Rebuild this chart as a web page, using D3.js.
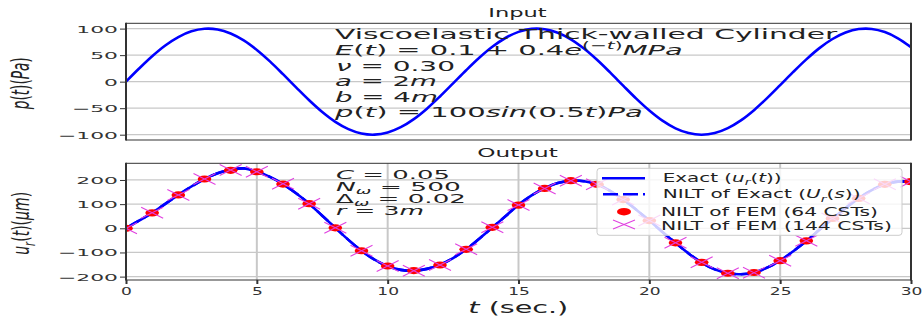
<!DOCTYPE html>
<html>
<head>
<meta charset="utf-8">
<script src="https://cdn.jsdelivr.net/npm/d3@7"></script>
<style>
  body { margin: 0; background: #fff; }
  svg { font-family: "DejaVu Sans", sans-serif; }
</style>
</head>
<body>
<svg id="chart" width="923" height="324"></svg>
<script>
// ---- data ----
const tFine = d3.range(0, 30.5, 0.5);
// input pressure p(t) in Pa, every 0.5 s
const pressure = [0, 24.7, 47.9, 68.2, 84.1, 94.9, 99.7, 98.4, 90.9, 77.8, 59.8, 38.2, 14.1, -10.8, -35.1, -57.2,
  -75.7, -89.5, -97.8, -99.9, -95.9, -85.9, -70.6, -50.9, -27.9, -3.3, 21.5, 45.0, 65.7, 82.3, 93.8, 99.5,
  98.9, 92.1, 79.8, 62.4, 41.2, 17.4, -7.5, -32.0, -54.4, -73.5, -88.0, -97.0, -100.0, -96.8, -87.5, -72.9,
  -53.7, -31.1, -6.6, 18.3, 42.0, 63.2, 80.4, 92.6, 99.1, 99.4, 93.5, 81.8, 65.0];
// exact radial displacement u_r(t) in micro-m, every 0.5 s
const exactU = [0, 32, 64, 101, 138, 173, 204, 228, 242, 248, 234, 213, 183, 145, 102, 52, 2, -48, -93, -130,
  -157, -172, -176, -168, -151, -123, -87, -43, 3, 50, 97, 136, 166, 187, 197, 195, 182, 155, 119, 77, 32,
  -15, -60, -104, -142, -170, -186, -190, -183, -163, -134, -95, -53, -6, 40, 84, 124, 158, 182, 193, 194];
// NILT of the exact transform (lies on the exact curve)
const niltExact = exactU.slice();
// FEM results at whole seconds
const tFem = d3.range(0, 31, 1);
const fem64 = [0, 64, 138, 204, 240, 234, 183, 102, 2, -93, -156, -175, -152, -87, 4, 96, 165, 197, 182, 119,
  32, -60, -141, -186, -183, -134, -52, 41, 124, 182, 193];
const fem144 = [0, 64, 138, 204, 241, 234, 184, 102, 2, -93, -156, -176, -152, -87, 4, 96, 165, 197, 182, 119,
  32, -60, -141, -186, -184, -134, -52, 41, 124, 182, 193];

const pTicks = [-100, -50, 0, 50, 100];
const uTicks = [-200, -100, 0, 100, 200];
const tTicks = [0, 5, 10, 15, 20, 25, 30];

const svg = d3.select('#chart');
const left = 126, right = 911;
const top1 = [23.3, 140], top2 = [163.3, 280];

const x = d3.scaleLinear().domain([0, 30]).range([left, right]);
const yP = d3.scaleLinear().domain([-110, 110]).range([top1[1], top1[0]]);
const yU = d3.scaleLinear().domain([-214, 269]).range([top2[1], top2[0]]);

// mathtext-ish text: parts = [[string, flags]] flags: i italic, b subscript, p superscript
function mathText(parent, parts, fs) {
    const t = parent.append('text').attr('font-size', fs).attr('fill', '#222');
    let shift = 0;
    parts.forEach(([s, k]) => {
        k = k || '';
        const sp = t.append('tspan').text(s);
        let target = 0, size = fs;
        if (k.includes('i')) sp.attr('font-style', 'italic');
        if (k.includes('b')) { target = fs * 0.28; size = fs * 0.7; }
        if (k.includes('p')) { target = -fs * 0.42; size = fs * 0.7; }
        sp.attr('font-size', size).attr('dy', target - shift);
        shift = target;
    });
    return t;
}

// place text at (px,py) stretched horizontally to a given width
function fitted(parts, fs, px, py, width, anchor) {
    const g = svg.append('g');
    const t = mathText(g, parts, fs).attr('text-anchor', anchor || 'start');
    const w = t.node().getBBox().width;
    g.attr('transform', `translate(${px},${py}) scale(${width / w},1)`);
    return g;
}

// rotated y label, length along y and thickness along x
function yLabel(parts, fs, cx, cy, len, sx) {
    const g = svg.append('g');
    const t = mathText(g, parts, fs).attr('text-anchor', 'middle');
    const w = t.node().getBBox().width;
    const k = len / w;
    g.attr('transform', `translate(${cx},${cy}) scale(${sx * k},${k}) rotate(-90)`);
}

svg.append('clipPath').attr('id', 'clip1').append('rect')
    .attr('x', left).attr('y', top1[0]).attr('width', right - left).attr('height', top1[1] - top1[0]);
svg.append('clipPath').attr('id', 'clip2').append('rect')
    .attr('x', left).attr('y', top2[0]).attr('width', right - left).attr('height', top2[1] - top2[0]);

function panel(yScale, yTicks, range, vGrid) {
    const g = svg.append('g');
    // grid
    g.selectAll('.hg').data(yTicks).enter().append('line')
        .attr('x1', left).attr('x2', right)
        .attr('y1', d => yScale(d)).attr('y2', d => yScale(d))
        .attr('stroke', '#c8c8c8').attr('stroke-width', 1.2);
    if (vGrid) {
        g.selectAll('.vg').data(tTicks).enter().append('line')
            .attr('x1', d => x(d)).attr('x2', d => x(d))
            .attr('y1', range[0]).attr('y2', range[1])
            .attr('stroke', '#c8c8c8').attr('stroke-width', 2);
    }
    // y axis
    const ya = g.append('g').attr('transform', `translate(${left},0)`)
        .call(d3.axisLeft(yScale).tickValues(yTicks).tickSize(6).tickFormat(d => d < 0 ? '\u2212' + (-d) : d));
    ya.select('.domain').remove();
    ya.selectAll('line').attr('stroke', '#333');
    ya.selectAll('text')
        .attr('font-family', '"DejaVu Sans", sans-serif').attr('font-size', 9.5).attr('fill', '#333')
        .attr('x', -8 / 2.3).attr('dy', '0.36em')
        .attr('transform', 'scale(2.3,1)');
    return g;
}

function frame(range) {
    const g = svg.append('g').attr('stroke', '#333');
    g.append('line').attr('x1', left).attr('x2', right).attr('y1', range[0]).attr('y2', range[0]).attr('stroke-width', 1);
    g.append('line').attr('x1', left).attr('x2', right).attr('y1', range[1]).attr('y2', range[1]).attr('stroke-width', 1);
    g.append('line').attr('x1', left).attr('x2', left).attr('y1', range[0] - 0.5).attr('y2', range[1] + 0.5).attr('stroke-width', 2);
    g.append('line').attr('x1', right).attr('x2', right).attr('y1', range[0] - 0.5).attr('y2', range[1] + 0.5).attr('stroke-width', 2);
}

// ---- Input panel ----
panel(yP, pTicks, top1, false);
svg.append('path')
    .datum(tFine.map((t, i) => [t, pressure[i]]))
    .attr('clip-path', 'url(#clip1)')
    .attr('fill', 'none').attr('stroke', '#0000ff').attr('stroke-width', 2.6)
    .attr('d', d3.line().x(d => x(d[0])).y(d => yP(d[1])).curve(d3.curveCatmullRom));
frame(top1);

// ---- Output panel ----
panel(yU, uTicks, top2, true);
const xa = svg.append('g').attr('transform', `translate(0,${top2[1]})`)
    .call(d3.axisBottom(x).tickValues(tTicks).tickSize(4));
xa.select('.domain').remove();
xa.selectAll('line').attr('stroke', '#333').attr('stroke-width', 2);
xa.selectAll('text')
    .attr('font-family', '"DejaVu Sans", sans-serif').attr('font-size', 11).attr('fill', '#333')
    .attr('y', 7).attr('transform', 'scale(1.55,1)')
    .attr('x', d => x(d) * 0 );
// d3 puts each tick in a translated group, so scaling around 0 keeps centring

const plot2 = svg.append('g').attr('clip-path', 'url(#clip2)');
const uLine = d3.line().x(d => x(d[0])).y(d => yU(d[1])).curve(d3.curveCatmullRom);
plot2.append('path').datum(tFine.map((t, i) => [t, exactU[i]]))
    .attr('fill', 'none').attr('stroke', '#0000ff').attr('stroke-width', 2.6).attr('d', uLine);
plot2.append('path').datum(tFine.map((t, i) => [t, niltExact[i]]))
    .attr('fill', 'none').attr('stroke', '#0000ff').attr('stroke-width', 2.6)
    .attr('stroke-dasharray', '15,5').attr('d', uLine);
plot2.selectAll('.f64').data(tFem.map((t, i) => [t, fem64[i]])).enter().append('ellipse')
    .attr('cx', d => x(d[0])).attr('cy', d => yU(d[1]))
    .attr('rx', 6.8).attr('ry', 3.6).attr('fill', '#ff0000');
const xs = plot2.selectAll('.f144').data(tFem.map((t, i) => [t, fem144[i]])).enter().append('path')
    .attr('d', d => {
        const cx = x(d[0]), cy = yU(d[1]);
        return `M${cx - 11},${cy - 5.5}L${cx + 11},${cy + 5.5}M${cx - 11},${cy + 5.5}L${cx + 11},${cy - 5.5}`;
    })
    .attr('stroke', '#e040e0').attr('stroke-width', 1.1).attr('fill', 'none');
frame(top2);

// ---- titles, labels ----
fitted([['Input']], 12, 517.5, 17.3, 59, 'middle');
fitted([['Output']], 12, 517.5, 156.7, 81, 'middle');
fitted([['t', 'i'], [' (sec.)']], 15, 518.3, 313, 100, 'middle');
yLabel([['p', 'i'], ['('], ['t', 'i'], [')('], ['Pa', 'i'], [')']], 14, 29.2, 83.3, 53, 1.85);
yLabel([['u', 'i'], ['r', 'ib'], ['('], ['t', 'i'], [')('], ['\u03bcm', 'i'], [')']], 14, 28.7, 223.3, 63, 1.7);

// ---- annotations ----
const fsA = 14;
fitted([['Viscoelastic Thick-walled Cylinder']], fsA, 335, 39.3, 503);
fitted([['E', 'i'], ['('], ['t', 'i'], [') = 0.1 + 0.4'], ['e', 'i'], ['(\u2212', 'p'], ['t', 'ip'], [')', 'p'], ['MPa', 'i']], fsA, 335, 54.8, 348);
fitted([['\u03bd', 'i'], [' = 0.30']], fsA, 336, 70.6, 119);
fitted([['a', 'i'], [' = 2'], ['m', 'i']], fsA, 335, 86.2, 102);
fitted([['b', 'i'], [' = 4'], ['m', 'i']], fsA, 335, 101.8, 103);
fitted([['p', 'i'], ['('], ['t', 'i'], [') = 100'], ['sin', 'i'], ['(0.5'], ['t', 'i'], [')'], ['Pa', 'i']], fsA, 335, 117.3, 310);

const fsB = 11.5;
fitted([['C', 'i'], [' = 0.05']], fsB, 336, 179.3, 114);
fitted([['N', 'i'], ['\u03c9', 'ib'], [' = 500']], fsB, 336, 190.7, 125);
fitted([['\u0394'], ['\u03c9', 'ib'], [' = 0.02']], fsB, 336, 203.0, 130);
fitted([['r', 'i'], [' = 3'], ['m', 'i']], fsB, 336, 215, 88);

// ---- legend ----
const leg = svg.append('g');
leg.append('rect').attr('x', 597).attr('y', 168.3).attr('width', 305).attr('height', 67).attr('rx', 3)
    .attr('fill', '#fff').attr('fill-opacity', 0.8).attr('stroke', '#cccccc').attr('stroke-width', 1);
leg.append('line').attr('x1', 602).attr('x2', 645).attr('y1', 178.3).attr('y2', 178.3)
    .attr('stroke', '#0000ff').attr('stroke-width', 2.4);
leg.append('line').attr('x1', 603).attr('x2', 645).attr('y1', 194.3).attr('y2', 194.3)
    .attr('stroke', '#0000ff').attr('stroke-width', 2.4).attr('stroke-dasharray', '15,5');
leg.append('ellipse').attr('cx', 624).attr('cy', 211.7).attr('rx', 7).attr('ry', 3.7).attr('fill', '#ff0000');
leg.append('path').attr('d', 'M613,220L635,229M613,229L635,220')
    .attr('stroke', '#e040e0').attr('stroke-width', 1.1);
fitted([['Exact ('], ['u', 'i'], ['r', 'ib'], ['('], ['t', 'i'], ['))']], fsB, 662.7, 181.5, 119);
fitted([['NILT of Exact ('], ['U', 'i'], ['r', 'ib'], ['('], ['s', 'i'], ['))']], fsB, 662.7, 198.3, 198);
fitted([['NILT of FEM (64 CSTs)']], fsB, 661, 215.5, 217);
fitted([['NILT of FEM (144 CSTs)']], fsB, 661, 229.5, 231);
</script>
</body>
</html>
